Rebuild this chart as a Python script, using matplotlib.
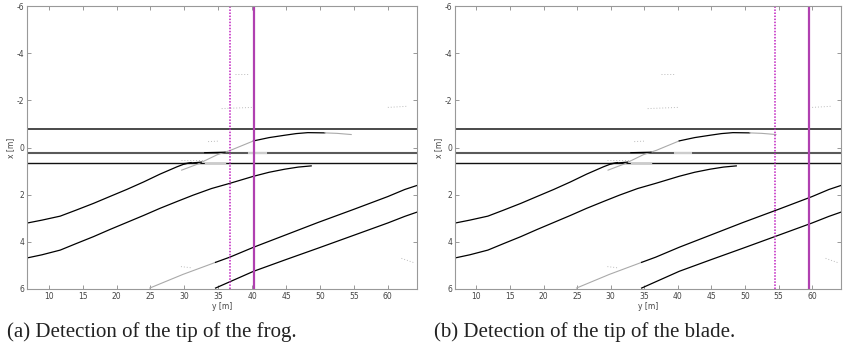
import matplotlib
matplotlib.use("Agg")
import matplotlib.pyplot as plt
import numpy as np

plt.rcParams["axes.unicode_minus"] = False

# ------------------------------------------------------------------
# track lines: along-track y [m], lateral x [m]
# ------------------------------------------------------------------
rail_top_x = -0.77
rail_mid_x = 0.23
rail_bot_x = 0.65
rail_y = [6.7, 64.5]

# diverging rail 1 (black, grey, black, grey)
div1_y_a = [6.7, 9, 11.7, 14, 16.6, 19, 21.5, 24, 26.4, 28.9, 29.9, 31]
div1_x_a = [3.21, 3.08, 2.91, 2.66, 2.37, 2.08, 1.78, 1.46, 1.13, 0.82, 0.71, 0.64]
div1_y_b = [29.6, 32, 34.9, 36.8, 38.5, 40.2]
div1_x_b = [0.96, 0.70, 0.30, 0.12, -0.08, -0.28]
div1_y_c = [40.2, 42.5, 44.8, 46.5, 48.2, 50.7]
div1_x_c = [-0.28, -0.42, -0.52, -0.59, -0.63, -0.62]
div1_y_d = [50.7, 52.5, 54.6]
div1_x_d = [-0.62, -0.60, -0.55]

# diverging rail 2
div2_y = [6.7, 9, 11.7, 14, 16.6, 19, 21.5, 24, 26.4, 29, 31.3, 34, 36.7, 40.2, 42.5, 44.8, 46.8, 48.7]
div2_x = [4.69, 4.55, 4.35, 4.08, 3.78, 3.48, 3.18, 2.88, 2.58, 2.28, 2.02, 1.74, 1.52, 1.22, 1.05, 0.92, 0.83, 0.78]

# straight rails lower right
low1_y_grey = [24.9, 29.8, 34.6]
low1_x_grey = [5.96, 5.38, 4.87]
low1_y = [34.6, 36.7, 40.2, 45, 49.7, 55, 60, 62.5, 64.5]
low1_x = [4.87, 4.65, 4.23, 3.70, 3.18, 2.62, 2.08, 1.78, 1.59]
low2_y = [34.6, 40.2, 45, 49.7, 55, 60, 62.5, 64.5]
low2_x = [5.96, 5.25, 4.75, 4.27, 3.72, 3.20, 2.92, 2.72]

# scattered grey returns
noise_y = [[37.5, 39.5], [35.5, 40], [60, 63], [62, 64], [29.5, 31], [33.5, 35], [29.5, 33]]
noise_x = [[-3.1, -3.1], [-1.65, -1.7], [-1.7, -1.75], [4.7, 4.9], [5.05, 5.1], [-0.25, -0.27], [0.55, 0.55]]

# black fragments near the frog
frag_y = [[33, 36], [30, 32.5]]
frag_x = [[0.22, 0.2], [0.68, 0.62]]

# detections: (dotted, solid) for each panel
detect_y = [(36.8, 40.3), (54.4, 59.5)]
captions = ["(a) Detection of the tip of the frog.",
            "(b) Detection of the tip of the blade."]

fig = plt.figure(figsize=(8.48, 3.46), dpi=100)
axes_pos = [[27/848, 57/346, 390/848, 283/346],
            [455/848, 57/346, 386/848, 283/346]]
cap_x = [7/848, 434/848]

for k in range(2):
    ax = fig.add_axes(axes_pos[k])
    # main rails
    ax.plot(rail_y, [rail_top_x]*2, color="#3a3a3a", lw=1.3)
    ax.plot(rail_y, [rail_mid_x]*2, color="#5a5a5a", lw=1.5)
    ax.plot([39.5, 42], [rail_mid_x]*2, color="#cccccc", lw=1.5)
    ax.plot(rail_y, [rail_bot_x]*2, color="#111111", lw=1.0)
    ax.plot([33, 36], [rail_bot_x]*2, color="#cccccc", lw=1.0)

    ax.plot(div1_y_a, div1_x_a, color="black", lw=0.9)
    ax.plot(div1_y_b, div1_x_b, color="#aaaaaa", lw=0.8)
    ax.plot(div1_y_c, div1_x_c, color="black", lw=0.9)
    ax.plot(div1_y_d, div1_x_d, color="#aaaaaa", lw=0.8)
    ax.plot(div2_y, div2_x, color="black", lw=0.9)
    ax.plot(low1_y_grey, low1_x_grey, color="#aaaaaa", lw=0.8)
    ax.plot(low1_y, low1_x, color="black", lw=0.9)
    ax.plot(low2_y, low2_x, color="black", lw=0.9)
    for fy, fx in zip(frag_y, frag_x):
        ax.plot(fy, fx, color="black", lw=0.9)
    for ny, nx in zip(noise_y, noise_x):
        ax.plot(ny, nx, color="#bbbbbb", lw=0.7, ls=(0, (1, 2)))

    d_dot, d_sol = detect_y[k]
    ax.axvline(d_dot, color="#c020c0", lw=1.1, ls=(0, (1, 1)))
    ax.axvline(d_sol, color="#b040b0", lw=1.6)

    ax.set_xlim(6.8, 64.3)
    ax.set_ylim(6, -6)
    ax.set_xticks([10, 15, 20, 25, 30, 35, 40, 45, 50, 55, 60])
    ax.set_yticks([-6, -4, -2, 0, 2, 4, 6])
    ax.tick_params(direction="in", top=True, right=True, length=3, width=0.6,
                   color="#888888", labelsize=5.5, labelcolor="#444444", pad=2)
    for s in ax.spines.values():
        s.set_color("#999999")
        s.set_linewidth(0.8)
    ax.set_xlabel("y [m]", fontsize=5.5, color="#444444", labelpad=1)
    ax.set_ylabel("x [m]", fontsize=5.5, color="#444444", labelpad=1)

    fig.text(cap_x[k], 9/346, captions[k], family="Liberation Serif",
             fontsize=15, color="#222222", va="baseline")

plt.savefig("out.png", dpi=100)
plt.close()
